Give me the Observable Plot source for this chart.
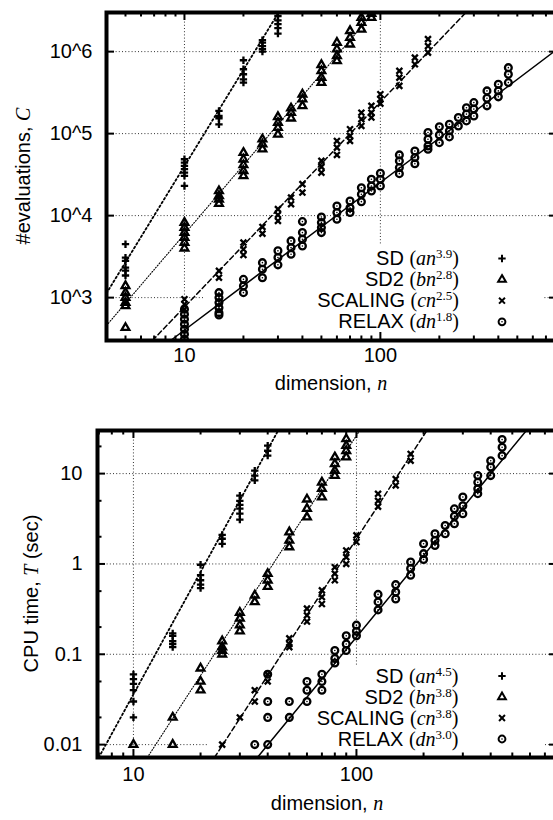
<!DOCTYPE html>
<html><head><meta charset="utf-8">
<script src="https://cdn.jsdelivr.net/npm/d3@7"></script>
<script src="https://cdn.jsdelivr.net/npm/@observablehq/plot@0.6"></script>
<style>
body{margin:0;background:#fff;}
#wrap{width:553px;height:820px;overflow:hidden;position:relative;background:#fff;}
#wrap svg{display:block;max-width:none !important;overflow:hidden;}
</style></head><body><div id="wrap"></div>
<script>
// ---------- shared categories ----------
const seriesNames = ["SD", "SD2", "SCALING", "RELAX"];
const coefNames = ["a", "b", "c", "d"];
const symbolNames = ["plus", "triangle2", "times", "circle"];

// ---------- tick values / labels ----------
const xMajor = [10, 100];
const xMajorLabels = ["10", "100"];
const xMinorTop = [5, 6, 7, 8, 9, 20, 30, 40, 50, 60, 70, 80, 90, 200, 300, 400, 500, 600, 700];
const xMinorBottom = [7, 8, 9, 20, 30, 40, 50, 60, 70, 80, 90, 200, 300, 400, 500, 600, 700];
const yMajorTop = [1e3, 1e4, 1e5, 1e6];
const yMajorTopLabels = ["10^3", "10^4", "10^5", "10^6"];
const yMajorBottom = [0.01, 0.1, 1, 10];
const yMajorBottomLabels = ["0.01", "0.1", "1", "10"];
const yMinorBottom = [0.02, 0.05, 0.2, 0.5, 2, 5, 20];

// ---------- fitted power laws (exponent, coefficient) ----------
const expC = [3.9, 2.8, 2.5, 1.8];
const coefC = [5.06, 9.43, 2.43, 6.37];
const expT = [4.5, 3.8, 3.8, 3.0];
const coefT = [1.14e-6, 6.62e-7, 4.75e-8, 1.55e-7];

// ---------- #evaluations C (top panel) ----------
const nSD_C = [5, 10, 15, 20, 25, 30];
const vSD_C = [
  [4480, 3080, 2800, 2320, 2140, 1860],
  [48700, 44300, 40400, 36800, 33400, 30500, 23000],
  [189000, 164000, 154000, 130000],
  [785000, 610000, 530000, 460000, 419000],
  [1380000, 1290000, 1170000, 1070000, 1000000],
  [2720000, 2410000, 2160000, 1930000, 1660000]
];
const nSD2_C = [5, 10, 15, 20, 25, 30, 35, 40, 50, 60, 70, 80, 90];
const vSD2_C = [
  [1390, 1150, 1000, 869, 792, 430],
  [8220, 7140, 6210, 5400, 4690, 4000],
  [20000, 17400, 15800, 14000],
  [58600, 48700, 41500, 35100, 30500],
  [85500, 74300, 64600],
  [160000, 136000, 118000, 98000],
  [204000, 180000, 154000],
  [302000, 263000, 218000],
  [689000, 582000, 482000, 419000],
  [1290000, 1070000, 887000, 771000],
  [1790000, 1480000, 1230000],
  [2600000, 2260000, 1870000],
  [2900000, 2600000]
];
const nSC_C = [10, 15, 20, 25, 30, 35, 40, 50, 60, 70, 80, 90, 100, 125, 150, 175];
const vSC_C = [
  [955, 830, 721],
  [2120, 1750],
  [4690, 3890, 3310],
  [7280, 6030],
  [12000, 10200, 8610],
  [16600, 13800],
  [24200, 19100],
  [46500, 39300, 33400],
  [81500, 67500, 55000],
  [113000, 93800, 81500],
  [180000, 150000, 124000],
  [218000, 180000, 157000],
  [302000, 263000, 232000],
  [582000, 482000, 382000],
  [845000, 702000],
  [1420000, 1170000, 972000]
];
const nRX_C = [10, 15, 20, 25, 30, 35, 40, 50, 60, 70, 80, 90, 100, 125, 150, 175, 200, 225, 250, 275, 300, 350, 400, 450];
const vRX_C = [
  [722, 628, 546, 474, 412, 358, 311],
  [1150, 1000, 869, 755, 656, 615],
  [1670, 1390, 1150],
  [2670, 2220, 1750],
  [3720, 3080, 2510],
  [4920, 4070, 3380],
  [8450, 6210, 5150, 4270],
  [9640, 8220, 7140, 6210],
  [13100, 10900, 9040],
  [15100, 12500, 10900],
  [21900, 18200, 14800],
  [27800, 23000, 20000],
  [32900, 27800, 23000],
  [55000, 46500, 38500, 32500],
  [61500, 51000, 43000],
  [103000, 85500, 70800, 64600],
  [121000, 96400, 77600],
  [130000, 108000, 91200],
  [157000, 124000],
  [207000, 173000, 143000],
  [239000, 199000, 164000],
  [332000, 270000, 218000],
  [400000, 332000, 281000],
  [638000, 530000, 419000]
];

// ---------- CPU time T (bottom panel) ----------
const nSD_T = [10, 15, 20, 25, 30, 35, 40];
const vSD_T = [
  [0.06, 0.053, 0.047, 0.04, 0.03, 0.02],
  [0.17, 0.16, 0.14, 0.13, 0.12],
  [0.98, 0.75, 0.66, 0.59, 0.54],
  [2.1, 1.9, 1.67],
  [5.7, 5.0, 4.5, 4.1, 3.6, 3.1],
  [10.8, 9.5, 8.4],
  [20.4, 17.9, 15.8]
];
const nSD2_T = [10, 15, 20, 25, 30, 35, 40, 50, 60, 70, 80, 90];
const vSD2_T = [
  [0.01],
  [0.02, 0.01],
  [0.07, 0.05, 0.04],
  [0.14, 0.12, 0.11, 0.1],
  [0.29, 0.25, 0.21, 0.18],
  [0.45, 0.38],
  [0.78, 0.66, 0.56],
  [2.25, 1.82, 1.54],
  [5.2, 4.1, 3.3],
  [8.0, 6.8, 5.5],
  [15.2, 12.8, 10.8, 9.5],
  [24.2, 20.4, 17.9, 15.2]
];
const nSC_T = [25, 30, 35, 40, 50, 60, 70, 80, 90, 100, 125, 150, 175];
const vSC_T = [
  [0.01],
  [0.02],
  [0.04, 0.03],
  [0.06, 0.05],
  [0.15, 0.13, 0.12],
  [0.32, 0.27, 0.23],
  [0.51, 0.43, 0.36],
  [0.92, 0.78, 0.66],
  [1.41, 1.19, 1.0],
  [2.07, 1.75],
  [5.97, 5.0, 4.3],
  [8.7, 7.4],
  [16.5, 13.9]
];
const nRX_T = [35, 40, 50, 60, 70, 80, 90, 100, 125, 150, 175, 200, 225, 250, 275, 300, 350, 400, 450];
const vRX_T = [
  [0.01],
  [0.06, 0.03, 0.02, 0.01],
  [0.03, 0.02],
  [0.05, 0.04, 0.03],
  [0.06, 0.05, 0.04],
  [0.11, 0.09, 0.08],
  [0.16, 0.13, 0.11],
  [0.21, 0.18, 0.16],
  [0.46, 0.38, 0.31],
  [0.59, 0.49, 0.41],
  [1.05, 0.89, 0.75],
  [1.67, 1.3, 1.12],
  [2.16, 1.82, 1.6],
  [2.66, 2.16],
  [4.07, 3.38, 2.78],
  [5.5, 4.4, 3.6],
  [9.5, 8.0, 6.8, 6.0],
  [13.9, 11.8, 9.5],
  [23.8, 19.6, 15.8]
];

// ---------- helpers ----------
const SANS = "'Liberation Sans', Arial, Helvetica, sans-serif";
const SERIF = "'Liberation Serif', 'Times New Roman', Times, serif";
const dotR = [2.5, 3.7, 2.8, 3.4];
const lineDash = ["1.8,2.6", "1,1.8", "5,3", null];
const lineWidth = [1.8, 1.1, 1.5, 1.5];
const markStroke = 2.3;

function toRows(nArr, vArr) {
  return nArr.flatMap((n, i) => vArr[i].map(v => ({n, v})));
}
function fitSegment(c, e, xd, yd) {
  const lo = Math.max(xd[0], Math.pow(yd[0] / c, 1 / e));
  const hi = Math.min(xd[1], Math.pow(yd[1] / c, 1 / e));
  return [lo, hi].map(n => ({n, v: c * Math.pow(n, e)}));
}

function makePanel(cfg) {
  const W = 553, H = cfg.height;
  const fw = W - cfg.ml, fh = H - cfg.mt - cfg.mb;
  const ns = "http://www.w3.org/2000/svg";
  const marks = [];
  const grid = {stroke: "#333", strokeWidth: 1, strokeDasharray: "1,2.2"};
  marks.push(Plot.ruleX(xMajor, {x: d => d, ...grid}));
  marks.push(Plot.ruleY(cfg.yMajor, {y: d => d, ...grid}));
  // opaque key box (above grid, below data)
  marks.push(() => {
    const r = document.createElementNS(ns, "rect");
    const b = cfg.keyBox;
    r.setAttribute("x", b[0]); r.setAttribute("y", b[1]);
    r.setAttribute("width", b[2] - b[0]); r.setAttribute("height", b[3] - b[1]);
    r.setAttribute("fill", "white");
    return r;
  });
  // fit lines
  for (let i = 0; i < 4; i++) {
    marks.push(Plot.line(fitSegment(cfg.coef[i], cfg.exp[i], cfg.xDomain, cfg.yDomain),
      {x: "n", y: "v", stroke: "black", strokeWidth: lineWidth[i], strokeDasharray: lineDash[i]}));
  }
  // data points
  for (let i = 0; i < 4; i++) {
    const rows = toRows(cfg.n[i], cfg.v[i]);
    marks.push(Plot.dot(rows, {x: "n", y: "v", symbol: symbolNames[i], r: dotR[i], fill: "none",
      stroke: "black", strokeWidth: markStroke, clip: true}));
    if (i === 3) marks.push(Plot.dot(rows, {x: "n", y: "v", r: 0.8, fill: "black", stroke: "none", clip: true}));
  }
  // frame: the right border lies just outside the picture
  marks.push(Plot.frame({stroke: "black", strokeWidth: 4, insetRight: -4}));
  // inward ticks
  const tk = {stroke: "black", strokeWidth: 2};
  marks.push(Plot.tickX(xMajor, {x: d => d, insetTop: fh - 8, ...tk}));
  marks.push(Plot.tickX(xMajor, {x: d => d, insetBottom: fh - 8, ...tk}));
  marks.push(Plot.tickX(cfg.xMinor, {x: d => d, insetTop: fh - 4.5, ...tk}));
  marks.push(Plot.tickX(cfg.xMinor, {x: d => d, insetBottom: fh - 4.5, ...tk}));
  marks.push(Plot.tickY(cfg.yMajor, {y: d => d, insetRight: fw - 8, ...tk}));
  marks.push(Plot.tickY(cfg.yMajor, {y: d => d, insetLeft: fw - 4, ...tk}));
  if (cfg.yMinor.length) {
    marks.push(Plot.tickY(cfg.yMinor, {y: d => d, insetRight: fw - 4.5, ...tk}));
  }
  // tick labels
  marks.push(Plot.text(xMajor, {x: d => d, frameAnchor: "bottom", dy: cfg.xLabDy,
    text: (d, i) => xMajorLabels[i], fontSize: 20, fill: "black"}));
  marks.push(Plot.text(cfg.yMajor, {y: d => d, frameAnchor: "left", dx: -cfg.yLabPad, textAnchor: "end",
    text: (d, i) => cfg.yLabels[i], fontSize: 20, fill: "black"}));
  // axis titles and key
  marks.push(() => {
    const g = d3.create("svg:g").attr("fill", "black");
    const xt = g.append("text").attr("x", cfg.xTitle[0]).attr("y", cfg.xTitle[1])
      .attr("text-anchor", "middle").attr("font-size", 20);
    xt.append("tspan").attr("font-family", SANS).text("dimension, ");
    xt.append("tspan").attr("font-family", SERIF).attr("font-style", "italic").text("n");
    const yt = g.append("text").attr("transform", `translate(${cfg.yTitle[0]},${cfg.yTitle[1]}) rotate(-90)`)
      .attr("text-anchor", "middle").attr("font-size", 20);
    cfg.yTitleParts.forEach(([txt, it]) => {
      yt.append("tspan").attr("font-family", it ? SERIF : SANS).attr("font-style", it ? "italic" : "normal").text(txt);
    });
    for (let i = 0; i < 4; i++) {
      const t = g.append("text").attr("x", cfg.keyTextX).attr("y", cfg.keyY0 + i * cfg.keyDy)
        .attr("text-anchor", "end").attr("font-size", 20);
      t.append("tspan").attr("font-family", SANS).text(seriesNames[i] + " ");
      t.append("tspan").attr("font-family", SERIF).text("(");
      t.append("tspan").attr("font-family", SERIF).attr("font-style", "italic").text(coefNames[i] + "n");
      t.append("tspan").attr("font-family", SERIF).attr("font-size", 13).attr("dy", -7).text(cfg.exp[i].toFixed(1));
      t.append("tspan").attr("font-family", SERIF).attr("dy", 7).text(")");
      const sy = cfg.keySymY0 + i * cfg.keyDy;
      const d3sym = [d3.symbolPlus, d3.symbolTriangle2, d3.symbolTimes, d3.symbolCircle][i];
      g.append("path").attr("transform", `translate(${cfg.keySymX},${sy})`)
        .attr("d", d3.symbol(d3sym, Math.PI * dotR[i] * dotR[i])())
        .attr("fill", "none").attr("stroke", "black").attr("stroke-width", 2);
      if (i === 3) g.append("circle").attr("cx", cfg.keySymX).attr("cy", sy).attr("r", 0.8).attr("fill", "black");
    }
    return g.node();
  });

  return Plot.plot({
    width: W, height: H,
    marginLeft: cfg.ml, marginRight: 0, marginTop: cfg.mt, marginBottom: cfg.mb,
    x: {type: "log", domain: cfg.xDomain, axis: null},
    y: {type: "log", domain: cfg.yDomain, axis: null},
    style: {fontFamily: SANS, fontSize: "20px", background: "white", color: "black", maxWidth: "none", overflow: "hidden"},
    marks
  });
}

const chartC = makePanel({
  height: 400, ml: 106, mt: 12, mb: 60,
  xDomain: [4, 765], yDomain: [300, 3e6],
  xMinor: xMinorTop, yMajor: yMajorTop, yLabels: yMajorTopLabels, yMinor: [],
  n: [nSD_C, nSD2_C, nSC_C, nRX_C], v: [vSD_C, vSD2_C, vSC_C, vRX_C],
  exp: expC, coef: coefC,
  xLabDy: 21.5, yLabPad: 14,
  xTitle: [331, 390], yTitle: [30, 176],
  yTitleParts: [["#evaluations, ", false], ["C", true]],
  keyBox: [205, 245, 543, 340],
  keyTextX: 459, keyY0: 265, keyDy: 21.1, keySymX: 502, keySymY0: 258.5
});
const chartT = makePanel({
  height: 420, ml: 97, mt: 30, mb: 63,
  xDomain: [6.9, 765], yDomain: [0.0072, 30],
  xMinor: xMinorBottom, yMajor: yMajorBottom, yLabels: yMajorBottomLabels, yMinor: yMinorBottom,
  n: [nSD_T, nSD2_T, nSC_T, nRX_T], v: [vSD_T, vSD2_T, vSC_T, vRX_T],
  exp: expT, coef: coefT,
  xLabDy: 23.5, yLabPad: 15,
  xTitle: [327, 410], yTitle: [38, 193.5],
  yTitleParts: [["CPU time, ", false], ["T", true], [" (sec)", false]],
  keyBox: [207, 265, 544, 357],
  keyTextX: 458.5, keyY0: 283.3, keyDy: 21, keySymX: 502, keySymY0: 276
});
const wrap = document.getElementById("wrap");
wrap.appendChild(chartC);
wrap.appendChild(chartT);
</script></body></html>
